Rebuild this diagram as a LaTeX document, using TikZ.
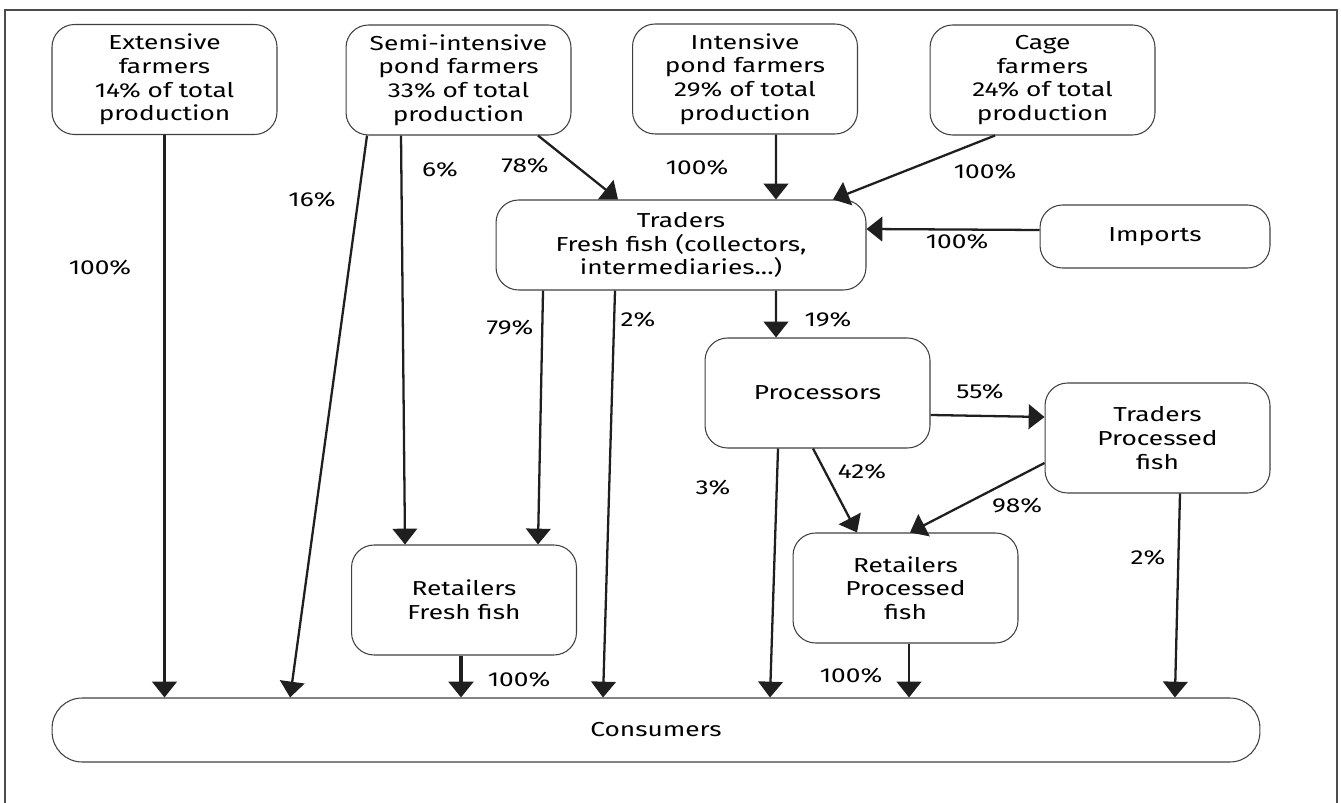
\documentclass[tikz,border=0pt]{standalone}
\usepackage{fontspec}
\setmainfont[FakeStretch=1.3]{Fira Sans}
\usepackage{tikz}
\usetikzlibrary{arrows.meta, positioning, calc}

\tikzset{
  stage/.style={draw=black!75, line width=0.6pt, rounded corners=0.45cm, align=center,
    minimum width=4.5cm, minimum height=2.2cm, inner sep=2pt,
    font=\fontsize{11.5}{13.45}\selectfont},
  flow/.style={-{Triangle[width=14pt,length=9pt]}, line width=1.3pt, black!88},
  share/.style={font=\fontsize{11.5}{13.45}\selectfont, inner sep=0pt}
}

\begin{document}
\begin{tikzpicture}[x=0.02cm, y=-0.02cm]
  \useasboundingbox (0,0) rectangle (1341,803);
  \draw[black!70, line width=0.8pt] (5,803) -- (5,10) -- (1337,10) -- (1337,803);

  % producers
  \node[stage] (ext)  at (164.5,79.5) {Extensive\\farmers\\14\% of total\\production};
  \node[stage] (semi) at (458.5,80)   {Semi-intensive\\pond farmers\\33\% of total\\production};
  \node[stage] (int)  at (745,79)     {Intensive\\pond farmers\\29\% of total\\production};
  \node[stage] (cage) at (1042.5,80)  {Cage\\farmers\\24\% of total\\production};

  % middle of the chain
  \node[stage, minimum width=7.4cm, minimum height=1.8cm] (trf) at (681,245)
    {Traders\\Fresh fish (collectors,\\intermediaries...)};
  \node[stage, minimum width=4.6cm, minimum height=1.26cm] (imp) at (1155,236.5) {Imports};
  \node[stage] (proc) at (817.5,393)  {Processors};
  \node[stage] (trp)  at (1157.5,438) {Traders\\Processed\\fish};
  \node[stage] (rff)  at (464,600)    {Retailers\\Fresh fish};
  \node[stage] (rpf)  at (905.5,588)  {Retailers\\Processed\\fish};
  \node[stage, minimum width=24.16cm, minimum height=1.28cm, rounded corners=0.6cm] (cons)
    at (656,730) {Consumers};

  % flows
  \draw[flow] (ext.south) -- (ext.south |- cons.north);
  \draw[flow] ([xshift=-1.83cm]semi.south) -- ([xshift=-7.32cm]cons.north);
  \draw[flow] ([xshift=-1.15cm]semi.south) -- ([xshift=-1.18cm]rff.north);
  \draw[flow] ([xshift=1.59cm]semi.south) -- ([xshift=-1.26cm]trf.north);
  \draw[flow] ([xshift=0.62cm]int.south) -- ([xshift=1.9cm]trf.north);
  \draw[flow] ([xshift=-0.95cm]cage.south) -- ([xshift=3.04cm]trf.north);
  \draw[flow] ([yshift=0.13cm]imp.west) -- ([yshift=0.32cm]trf.east);
  \draw[flow] ([xshift=-2.76cm]trf.south) -- ([xshift=1.48cm]rff.north);
  \draw[flow] ([xshift=-1.32cm]trf.south) -- ([xshift=-1.06cm]cons.north);
  \draw[flow] ([xshift=1.9cm]trf.south) -- ([xshift=-0.83cm]proc.north);
  \draw[flow] ([yshift=-0.44cm]proc.east) -- ([yshift=0.42cm]trp.west);
  \draw[flow] ([xshift=-0.09cm]proc.south) -- ([xshift=-0.97cm]rpf.north);
  \draw[flow] ([xshift=-0.79cm]proc.south) -- ([xshift=2.28cm]cons.north);
  \draw[flow] ([yshift=-0.5cm]trp.west) -- ([xshift=0.09cm]rpf.north);
  \draw[flow] ([xshift=0.45cm]trp.south) -- ([xshift=10.38cm]cons.north);
  \draw[flow, line width=2pt] ([xshift=-0.06cm]rff.south) -- ([xshift=-0.06cm]rff.south |- cons.north);
  \draw[flow] ([xshift=0.07cm]rpf.south) -- ([xshift=0.07cm]rpf.south |- cons.north);

  % shares
  \node[share] (s1)  at (100,268)  {100\%};
  \node[share] (s2)  at (312,200)  {16\%};
  \node[share] (s3)  at (440,170)  {6\%};
  \node[share] (s4)  at (525,166)  {78\%};
  \node[share] (s5)  at (697,168)  {100\%};
  \node[share] (s6)  at (985,172)  {100\%};
  \node[share] (s7)  at (957,242)  {100\%};
  \node[share] (s8)  at (510,328)  {79\%};
  \node[share] (s9)  at (638,320)  {2\%};
  \node[share] (s10) at (828,320)  {19\%};
  \node[share] (s11) at (980,392)  {55\%};
  \node[share] (s12) at (862,472)  {42\%};
  \node[share] (s13) at (713,488)  {3\%};
  \node[share] (s14) at (1017,506) {98\%};
  \node[share] (s15) at (1148,558) {2\%};
  \node[share] (s16) at (519,680)  {100\%};
  \node[share] (s17) at (851,676)  {100\%};
\end{tikzpicture}
\end{document}
